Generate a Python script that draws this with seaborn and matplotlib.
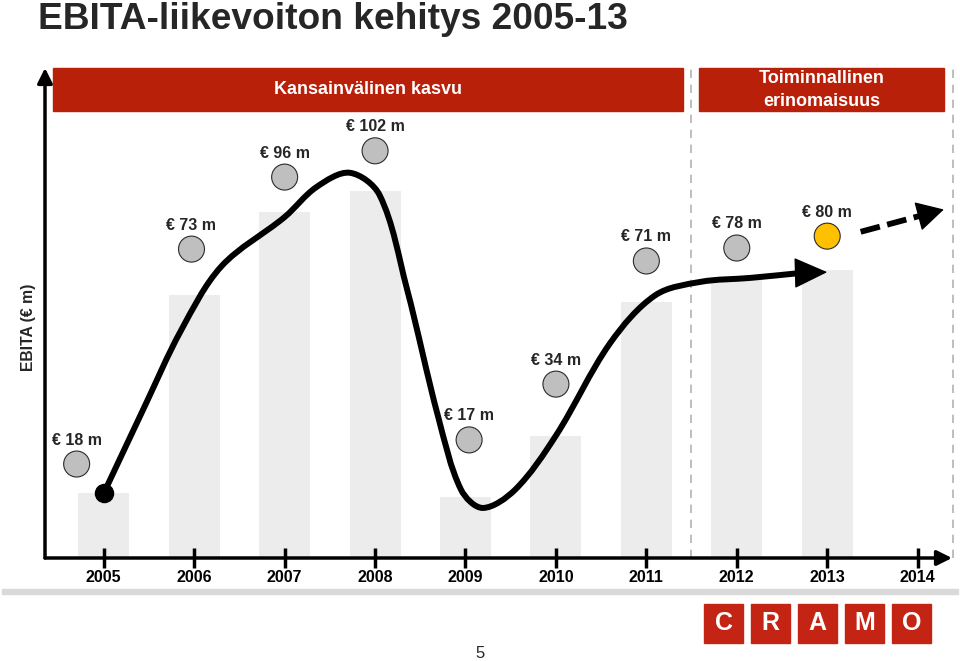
import matplotlib
matplotlib.use('Agg')
import matplotlib.pyplot as plt
import seaborn as sns
import numpy as np
import pandas as pd
from matplotlib.path import Path
from matplotlib.patches import PathPatch, Rectangle

# DATA
years = [2005, 2006, 2007, 2008, 2009, 2010, 2011, 2012, 2013]
ebita = [18, 73, 96, 102, 17, 34, 71, 78, 80]
tick_years = [2005, 2006, 2007, 2008, 2009, 2010, 2011, 2012, 2013, 2014]
value_labels = ['€ 18 m', '€ 73 m', '€ 96 m', '€ 102 m', '€ 17 m',
                '€ 34 m', '€ 71 m', '€ 78 m', '€ 80 m']
highlight = ['past'] * 8 + ['latest']

# hand drawn trend line
trend_years = [2005.00, 2005.45, 2005.85, 2006.30, 2007.00, 2007.35, 2007.72,
               2008.05, 2008.35, 2008.70, 2008.95, 2009.19, 2009.55, 2010.00,
               2010.60, 2011.10, 2011.60, 2012.15, 2012.72]
trend_values = [18, 42, 63, 81, 94.7, 103, 107,
                100.8, 75, 39, 19, 13.9, 19, 34,
                59.7, 73, 76.7, 77.8, 79.2]
trend_end = (2013.0, 79.4)

# outlook arrow
outlook_years = [2013.37, 2014.08]
outlook_values = [90.6, 95.4]
outlook_tip = (2014.29, 96.8)

# phases shown in the red header boxes
phase_names = ['Kansainvälinen kasvu', 'Toiminnallinen\nerinomaisuus']
phase_start = [2004.44, 2011.58]
phase_end = [2011.405, 2014.29]
phase_dividers = [2011.49, 2014.39]

logo_letters = ['C', 'R', 'A', 'M', 'O']

# layout of the value bubbles (value units / years)
bubble_offset = [8.1, 12.8, 9.8, 11.1, 15.8, 14.3, 11.5, 8.1, 9.4]
bubble_shift = [-0.30, -0.03, 0, 0, 0.04, 0, 0, 0, 0]

RED = '#b8200a'
LOGO_RED = '#c42414'

sns.set_theme(style='white')
plt.rcParams['font.family'] = ['Liberation Sans', 'DejaVu Sans']

W, H = 960, 661
fig = plt.figure(figsize=(W / 100, H / 100), dpi=100)
ax = fig.add_axes([45 / W, 103 / H, 907 / W, 490 / H])

df = pd.DataFrame({'year': years, 'ebita': ebita})
sns.barplot(data=df, x='year', y='ebita', native_scale=True, width=0.565,
            color='#ececec', saturation=1, linewidth=0, ax=ax, zorder=1)

ax.set_xlim(2004.35, 2014.38)
ax.set_ylim(0, 136.1)
ax.set_axisbelow(False)
for s in ax.spines.values():
    s.set_visible(False)
ax.set_yticks([])
ax.set_xticks(tick_years)
ax.set_xticklabels([str(y) for y in tick_years], fontweight='bold')
ax.tick_params(axis='x', direction='inout', length=15, width=2.5, pad=1.5,
               labelsize=11.5, colors='black', bottom=True)

# axes with arrow heads
arrow_kw = dict(arrowstyle='-|>,head_length=0.6,head_width=0.3', lw=2.5,
                color='black', mutation_scale=15, shrinkA=0, shrinkB=0)
ax.annotate('', xy=(0, 1), xytext=(0, 0), xycoords='axes fraction',
            arrowprops=arrow_kw)
ax.annotate('', xy=(1, 0), xytext=(0, 0), xycoords='axes fraction',
            arrowprops=arrow_kw)

# phase dividers
for xd in phase_dividers:
    ax.plot([xd, xd], [0, 136], color='#b3b3b3', lw=1.2, ls=(0, (5, 4)),
            clip_on=False, zorder=1)

# phase headers
for name, x0, x1 in zip(phase_names, phase_start, phase_end):
    ax.add_patch(Rectangle((x0, 124.2), x1 - x0, 11.9, color=RED,
                           clip_on=False, zorder=3))
    ax.text((x0 + x1) / 2, 130.0, name, color='white', fontsize=13,
            fontweight='bold', ha='center', va='center', linespacing=1.45,
            zorder=4)

# trend curve: smooth Bezier path through the read points (chord-length tangents)
pts = np.column_stack([trend_years, trend_values])
px = ax.transData.transform(pts)
t = np.concatenate([[0], np.cumsum(np.hypot(*np.diff(px, axis=0).T))])
n = len(pts)
tang = np.zeros_like(pts)
for i in range(n):
    a, b = max(i - 1, 0), min(i + 1, n - 1)
    tang[i] = (pts[b] - pts[a]) / (t[b] - t[a])
verts = [tuple(pts[0])]
codes = [Path.MOVETO]
for i in range(n - 1):
    h = t[i + 1] - t[i]
    verts += [tuple(pts[i] + tang[i] * h / 3), tuple(pts[i + 1] - tang[i + 1] * h / 3),
              tuple(pts[i + 1])]
    codes += [Path.CURVE4] * 3
ax.add_patch(PathPatch(Path(verts, codes), fill=False, lw=4.3,
                       edgecolor='black', capstyle='round', zorder=5))
ax.annotate('', xy=trend_end, xytext=(trend_years[-1] - 0.02, trend_values[-1]),
            arrowprops=dict(arrowstyle='-|>,head_length=1.08,head_width=0.5',
                            mutation_scale=20, lw=1, color='black',
                            shrinkA=0, shrinkB=0), zorder=5)
ax.scatter([trend_years[0]], [trend_values[0]], s=170, color='black', zorder=6)

# outlook dashed arrow
ax.plot(outlook_years, outlook_values, color='black', lw=4.2,
        ls=(0, (3.4, 1.3)), dash_capstyle='butt', clip_on=False, zorder=5)
ax.annotate('', xy=outlook_tip, xytext=(outlook_years[-1] - 0.02, outlook_values[-1] - 0.13),
            arrowprops=dict(arrowstyle='-|>,head_length=1.1,head_width=0.6',
                            mutation_scale=16, lw=1, color='black',
                            shrinkA=0, shrinkB=0), zorder=5, annotation_clip=False)

# value bubbles and labels
bub = pd.DataFrame({
    'x': [y + s for y, s in zip(years, bubble_shift)],
    'y': [v + o for v, o in zip(ebita, bubble_offset)],
    'kind': highlight,
})
sns.scatterplot(data=bub, x='x', y='y', hue='kind',
                palette={'past': '#bfbfbf', 'latest': '#ffc000'},
                s=350, edgecolor='#2b2b2b', linewidth=0.8, legend=False,
                ax=ax, zorder=6)
for bx, by, lab in zip(bub['x'], bub['y'], value_labels):
    ax.annotate(lab, xy=(bx, by), xytext=(0, 17.3), textcoords='offset points',
                ha='center', va='center', fontsize=11.5, fontweight='bold',
                zorder=7)
ax.set_xlabel('')
ax.set_ylabel('')

# page furniture
fig.text(38 / W, 1 - 29 / H, 'EBITA-liikevoiton kehitys 2005-13', fontsize=26.7,
         fontweight='bold', va='baseline', ha='left')
fig.text(28 / W, 1 - 327 / H, 'EBITA (€ m)', rotation=90, fontsize=11.3,
         fontweight='bold', ha='center', va='center')
fig.add_artist(Rectangle((2 / W, 1 - 594 / H), 956 / W, 5 / H,
                         transform=fig.transFigure, color='#d9d9d9'))
for i, letter in enumerate(logo_letters):
    x0 = 704 + 47 * i
    fig.add_artist(Rectangle((x0 / W, 1 - 643 / H), 39 / W, 39 / H,
                             transform=fig.transFigure, color=LOGO_RED))
    fig.text((x0 + 19.5) / W, 1 - 623.5 / H, letter, color='white',
             fontsize=18, fontweight='bold', ha='center', va='center')
fig.text(480 / W, 1 - 653 / H, '5', fontsize=12, ha='center', va='center')

fig.savefig('out.png', dpi=100)
